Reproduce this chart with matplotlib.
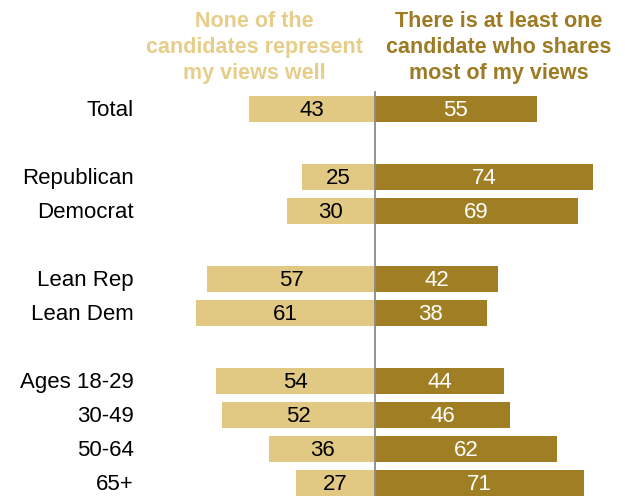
import matplotlib.pyplot as plt

# survey shares, percent
groups = ["Total", "Republican", "Democrat", "Lean Rep", "Lean Dem",
          "Ages 18-29", "30-49", "50-64", "65+"]
none_represent = [43, 25, 30, 57, 61, 54, 52, 36, 27]
at_least_one = [55, 74, 69, 42, 38, 44, 46, 62, 71]
row_pos = [0, 2, 3, 5, 6, 8, 9, 10, 11]

left_head = "None of the\ncandidates represent\nmy views well"
right_head = "There is at least one\ncandidate who shares\nmost of my views"

light = "#e2c983"
dark = "#a07f24"

plt.rcParams["font.family"] = ["Liberation Sans", "DejaVu Sans"]

fig = plt.figure(figsize=(6.25, 4.96), dpi=100)
ax = fig.add_axes([0, 0, 1, 1])

px = 2.94  # pixels per percentage point
ax.set_xlim(-375 / px, 250 / px)
ax.set_ylim((496 - 109) / 34, -109 / 34)
ax.axis("off")

h = 0.77
ax.barh(row_pos, [-v for v in none_represent], height=h, color=light)
ax.barh(row_pos, at_least_one, height=h, color=dark)
ax.plot([0, 0], [-0.5, 12], color="#8a8a8a", lw=1.3)

for y, g, a, b in zip(row_pos, groups, none_represent, at_least_one):
    ax.text(-a / 2, y + 0.03, str(a), ha="center", va="center",
            fontsize=16, color="black")
    ax.text(b / 2, y + 0.03, str(b), ha="center", va="center",
            fontsize=16, color="white")
    ax.text(-(375 - 134) / px, y + 0.03, g, ha="right", va="center",
            fontsize=16, color="black")

ax.text(-(375 - 254) / px, -1.8, left_head, ha="center", va="center",
        fontsize=15.5, fontweight="bold", color="#e6cd89", linespacing=1.32)
ax.text((499 - 375) / px, -1.8, right_head, ha="center", va="center",
        fontsize=15.5, fontweight="bold", color="#9c7b22", linespacing=1.32)

fig.savefig("out.png", dpi=100)
